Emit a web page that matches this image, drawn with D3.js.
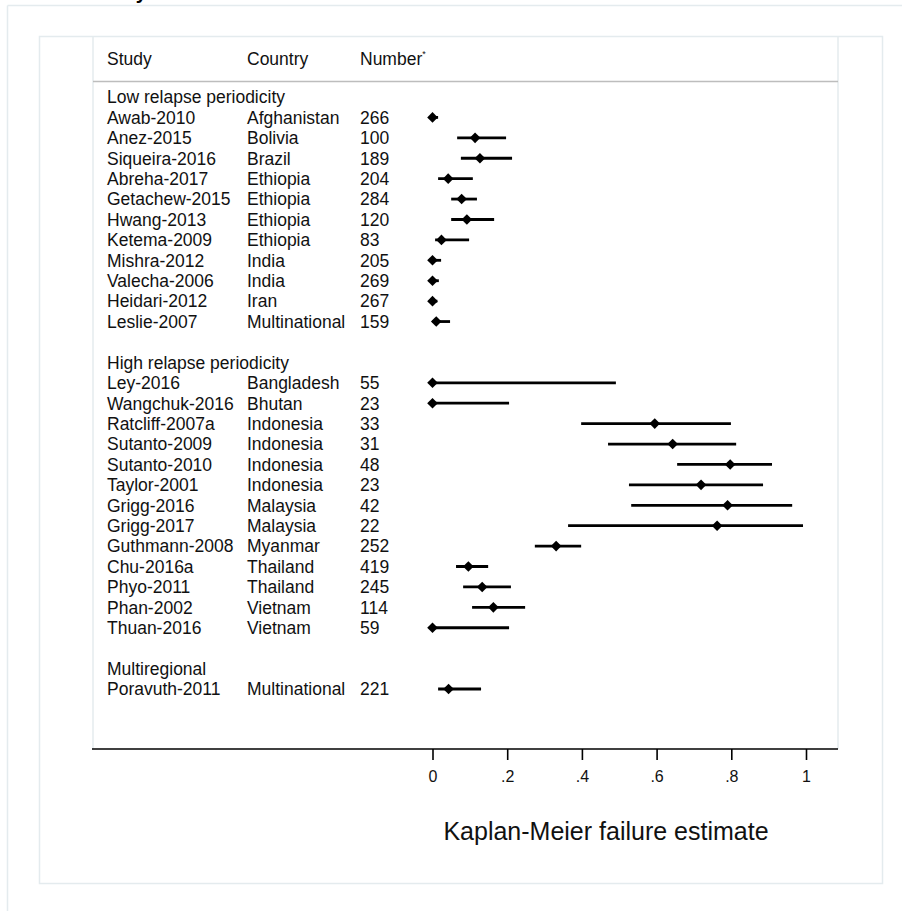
<!DOCTYPE html>
<html>
<head>
<meta charset="utf-8">
<script src="https://cdn.jsdelivr.net/npm/d3@7"></script>
<style>
  html, body { margin: 0; padding: 0; background: #fff; }
  svg { display: block; font-family: "Liberation Sans", Arial, Helvetica, sans-serif; }
</style>
</head>
<body>
<div id="chart"></div>
<script>
// Grupos y filas del forest plot
const grupos = ['Low relapse periodicity', 'High relapse periodicity', 'Multiregional'];
const estudios = [
  'Awab-2010', 'Anez-2015', 'Siqueira-2016', 'Abreha-2017', 'Getachew-2015', 'Hwang-2013',
  'Ketema-2009', 'Mishra-2012', 'Valecha-2006', 'Heidari-2012', 'Leslie-2007',
  'Ley-2016', 'Wangchuk-2016', 'Ratcliff-2007a', 'Sutanto-2009', 'Sutanto-2010', 'Taylor-2001',
  'Grigg-2016', 'Grigg-2017', 'Guthmann-2008', 'Chu-2016a', 'Phyo-2011', 'Phan-2002', 'Thuan-2016',
  'Poravuth-2011'
];
const paises = [
  'Afghanistan', 'Bolivia', 'Brazil', 'Ethiopia', 'Ethiopia', 'Ethiopia',
  'Ethiopia', 'India', 'India', 'Iran', 'Multinational',
  'Bangladesh', 'Bhutan', 'Indonesia', 'Indonesia', 'Indonesia', 'Indonesia',
  'Malaysia', 'Malaysia', 'Myanmar', 'Thailand', 'Thailand', 'Vietnam', 'Vietnam',
  'Multinational'
];
const numeros = [266, 100, 189, 204, 284, 120, 83, 205, 269, 267, 159,
  55, 23, 33, 31, 48, 23, 42, 22, 252, 419, 245, 114, 59,
  221];
const grupoDe = [0, 0, 0, 0, 0, 0, 0, 0, 0, 0, 0,
  1, 1, 1, 1, 1, 1, 1, 1, 1, 1, 1, 1, 1,
  2];

// Estimación Kaplan-Meier e intervalos
const estimacion = [0, 0.114, 0.127, 0.042, 0.078, 0.092, 0.024, 0, 0, 0, 0.01,
  0, 0, 0.595, 0.643, 0.797, 0.719, 0.790, 0.762, 0.331, 0.096, 0.133, 0.163, 0,
  0.043];
const inferior = [0, 0.066, 0.076, 0.015, 0.050, 0.050, 0.007, 0, 0, 0, 0,
  0, 0, 0.398, 0.470, 0.655, 0.526, 0.532, 0.363, 0.274, 0.063, 0.082, 0.106, 0,
  0.015];
const superior = [0.015, 0.197, 0.213, 0.108, 0.119, 0.165, 0.098, 0.023, 0.017, 0.013, 0.047,
  0.491, 0.205, 0.799, 0.813, 0.909, 0.885, 0.963, 0.992, 0.398, 0.149, 0.210, 0.248, 0.205,
  0.130];

const ticksX = [0, 0.2, 0.4, 0.6, 0.8, 1];
const etiquetasTicks = ['0', '.2', '.4', '.6', '.8', '1'];
const cabeceras = ['Study', 'Country', 'Number'];
const tituloEje = 'Kaplan-Meier failure estimate';

// Filas: cabecera de grupo, estudios y hueco entre grupos
const filas = [];
grupos.forEach((g, gi) => {
  if (gi > 0) filas.push({ tipo: 'hueco' });
  filas.push({ tipo: 'grupo', texto: g });
  estudios.forEach((s, i) => {
    if (grupoDe[i] === gi) filas.push({ tipo: 'estudio', i });
  });
});

const width = 902, height = 911;
const colorMarco = '#e4ebee';

const svg = d3.select('#chart').append('svg')
  .attr('width', width).attr('height', height);

// Marcos de fondo
svg.append('line').attr('x1', 7.5).attr('x2', width).attr('y1', 5.5).attr('y2', 5.5)
  .attr('stroke', colorMarco).attr('stroke-width', 1.5);
svg.append('line').attr('x1', 7.5).attr('x2', 7.5).attr('y1', 5.5).attr('y2', height)
  .attr('stroke', colorMarco).attr('stroke-width', 1.5);
svg.append('rect').attr('x', 39.5).attr('y', 36.5).attr('width', 843).attr('height', 847)
  .attr('fill', 'none').attr('stroke', colorMarco).attr('stroke-width', 1.5);

// Título recortado arriba (en el original solo asoma el trazo inferior)
svg.append('text').attr('x', 147).attr('y', -1).attr('text-anchor', 'end')
  .attr('font-size', 20).attr('font-weight', 'bold').attr('fill', '#000').text('Study');

const izq = 93, der = 838, ejeY = 749;
svg.append('line').attr('x1', izq).attr('x2', izq).attr('y1', 36.5).attr('y2', ejeY)
  .attr('stroke', colorMarco).attr('stroke-width', 1.5);
svg.append('line').attr('x1', der).attr('x2', der).attr('y1', 36.5).attr('y2', ejeY)
  .attr('stroke', colorMarco).attr('stroke-width', 1.5);

// Escalas
const x = d3.scaleLinear().domain([0, 1]).range([432.5, 806]);
const y = d3.scaleLinear().domain([0, filas.length - 1]).range([97, 689]);

const fs = 17.5;
const colX = [107, 247, 360];

// Cabecera
const cab = svg.append('g');
cabeceras.forEach((c, k) => {
  const t = cab.append('text').attr('x', colX[k]).attr('y', 65)
    .attr('font-size', fs).attr('fill', '#111').text(c);
  if (k === 2) t.append('tspan').attr('font-size', 9).attr('dy', -8).text('*');
});
svg.append('line').attr('x1', izq).attr('x2', der).attr('y1', 81.5).attr('y2', 81.5)
  .attr('stroke', '#bdbdbd').attr('stroke-width', 1.6);

// Texto de filas
const g = svg.append('g');
filas.forEach((f, r) => {
  const yb = y(r) + 6.3;
  if (f.tipo === 'grupo') {
    g.append('text').attr('x', colX[0]).attr('y', yb).attr('font-size', fs).attr('fill', '#111').text(f.texto);
  } else if (f.tipo === 'estudio') {
    [estudios[f.i], paises[f.i], numeros[f.i]].forEach((v, k) => {
      g.append('text').attr('x', colX[k]).attr('y', yb).attr('font-size', fs).attr('fill', '#111').text(v);
    });
  }
});

// Intervalos y diamantes
const datosEst = filas.map((f, r) => ({ ...f, r })).filter(f => f.tipo === 'estudio');
svg.append('g').selectAll('line').data(datosEst).enter().append('line')
  .attr('x1', d => x(inferior[d.i])).attr('x2', d => x(superior[d.i]))
  .attr('y1', d => y(d.r)).attr('y2', d => y(d.r))
  .attr('stroke', '#000').attr('stroke-width', 2.8);
const h = 5.3;
svg.append('g').selectAll('path').data(datosEst).enter().append('path')
  .attr('d', d => {
    const cx = x(estimacion[d.i]), cy = y(d.r);
    return `M${cx},${cy - h}L${cx + h},${cy}L${cx},${cy + h}L${cx - h},${cy}Z`;
  })
  .attr('fill', '#000');

// Eje X
const eje = svg.append('g').attr('transform', `translate(0,${ejeY})`)
  .call(d3.axisBottom(x).tickValues(ticksX).tickSize(11).tickPadding(11)
    .tickFormat((d, i) => etiquetasTicks[i]));
eje.select('.domain').remove();
eje.selectAll('.tick line').attr('stroke', '#000').attr('stroke-width', 1.6);
eje.selectAll('.tick text').attr('font-size', 16).attr('fill', '#111')
  .attr('font-family', '"Liberation Sans", Arial, sans-serif');
svg.append('line').attr('x1', izq - 1).attr('x2', der).attr('y1', ejeY).attr('y2', ejeY)
  .attr('stroke', '#000').attr('stroke-width', 1.6);

svg.append('text').attr('x', 606).attr('y', 840).attr('text-anchor', 'middle')
  .attr('font-size', 25).attr('fill', '#111').text(tituloEje);
</script>
</body>
</html>
